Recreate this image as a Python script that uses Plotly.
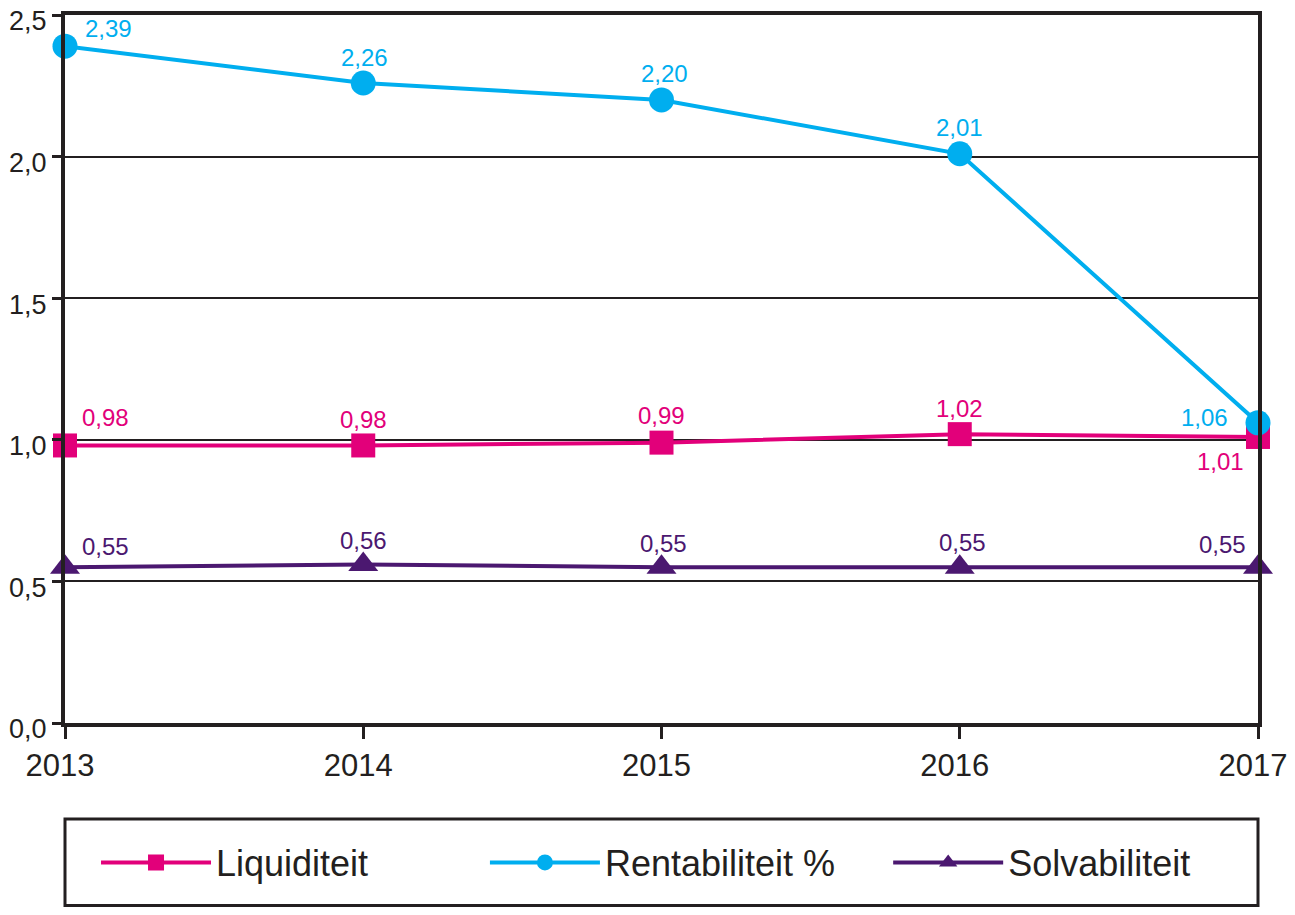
import plotly.graph_objects as go

years = [2013, 2014, 2015, 2016, 2017]
liquiditeit = [0.98, 0.98, 0.99, 1.02, 1.01]
rentabiliteit = [2.39, 2.26, 2.20, 2.01, 1.06]
solvabiliteit = [0.55, 0.56, 0.55, 0.55, 0.55]
y_ticks = [0.0, 0.5, 1.0, 1.5, 2.0, 2.5]

names = ["Liquiditeit", "Rentabiliteit %", "Solvabiliteit"]
colors = ["#E2007A", "#00AEEF", "#4B1870"]
symbols = ["square", "circle", "triangle-up"]
sizes = [24, 25, 26]
legend_ids = ["legend", "legend2", "legend3"]
legend_x = [0.026, 0.352, 0.690]

# label placement per point: (xanchor, xshift, yshift)
label_style = [
    [("left", 15, 28), ("center", 0, 26), ("center", 0, 27), ("center", 0, 26), ("right", -12, -25)],
    [("left", 18, 18), ("center", 1, 25), ("center", 3, 26), ("center", 0, 26), ("right", -28, 5)],
    [("left", 15, 21), ("center", 0, 24), ("center", 2, 24), ("center", 3, 25), ("right", -10, 23)],
]

ink = "#231F20"
font = "Liberation Sans, Arial, sans-serif"

fig = go.Figure()
annotations = []
series = [liquiditeit, rentabiliteit, solvabiliteit]
for name, vals, col, sym, sz, lg, styles in zip(names, series, colors, symbols, sizes,
                                                legend_ids, label_style):
    fig.add_trace(go.Scatter(
        x=years, y=vals, name=name, mode="lines+markers",
        line=dict(color=col, width=4),
        marker=dict(symbol=sym, size=sz, color=col),
        cliponaxis=False,
        legend=lg,
    ))
    for x, v, (xa, dx, dy) in zip(years, vals, styles):
        annotations.append(dict(
            x=x, y=v, xref="x", yref="y", text=f"{v:.2f}".replace(".", ","),
            showarrow=False, xanchor=xa, yanchor="middle", xshift=dx, yshift=dy,
            font=dict(color=col, size=24, family=font),
        ))

legend_common = dict(
    orientation="h", xanchor="left", y=-0.197, yanchor="middle",
    font=dict(size=36, family=font, color=ink),
    itemwidth=110, bgcolor="rgba(0,0,0,0)", itemclick=False, itemdoubleclick=False,
)

fig.update_layout(
    width=1287, height=899,
    margin=dict(l=57, r=37, t=7, b=184),
    paper_bgcolor="white", plot_bgcolor="white",
    separators=", ",
    font=dict(family=font, size=32, color=ink),
    showlegend=True,
    legend=dict(x=legend_x[0], **legend_common),
    legend2=dict(x=legend_x[1], **legend_common),
    legend3=dict(x=legend_x[2], **legend_common),
    annotations=annotations,
    shapes=[dict(type="rect", xref="paper", yref="paper",
                 x0=0.0, x1=1.0, y0=-0.2578, y1=-0.1356,
                 line=dict(color=ink, width=3), layer="below")],
)
fig.update_xaxes(
    range=[2013, 2017], tickvals=years, ticktext=[str(y) for y in years],
    showgrid=False, zeroline=False, automargin=False,
    showline=True, linecolor=ink, linewidth=4, mirror=True,
    ticks="outside", ticklen=12, tickwidth=3, tickcolor=ink,
    ticklabelshift=-5,
    tickfont=dict(size=31, family=font, color=ink),
)
fig.update_yaxes(
    range=[0, 2.5], tickvals=y_ticks, ticktext=[f"{v:.1f}".replace(".", ",") for v in y_ticks],
    showgrid=True, gridcolor=ink, gridwidth=2, zeroline=False, automargin=False,
    showline=True, linecolor=ink, linewidth=4, mirror=True,
    ticks="outside", ticklen=9, tickwidth=3, tickcolor=ink,
    ticklabeloverflow="allow", ticklabelshift=6,
    tickfont=dict(size=27, family=font, color=ink),
)

fig.write_html("out.html")
